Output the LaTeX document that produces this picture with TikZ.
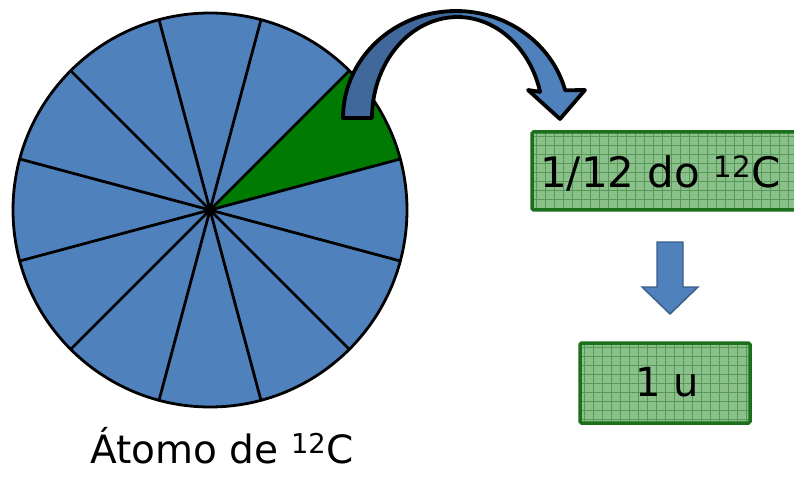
\documentclass[tikz,border=0pt]{standalone}
\usepackage{fontspec}
\setmainfont{DejaVu Sans}
\definecolor{pieblue}{RGB}{79,129,189}
\definecolor{piegreen}{RGB}{0,122,0}
\definecolor{arrowdark}{RGB}{64,104,155}
\definecolor{arrowedge}{RGB}{56,93,138}
\definecolor{boxfill}{RGB}{138,192,138}
\definecolor{boxgrid}{RGB}{88,152,88}
\definecolor{boxedge}{RGB}{28,112,28}
\begin{document}
\begin{tikzpicture}[x=1pt,y=-1pt,
  spoke/.style={line width=2.8pt,black},
  rim/.style={line width=2.8pt,black},
  gridbox/.style={draw=boxedge,line width=3.5pt,rounded corners=1.5pt},
  gridline/.style={boxgrid,line width=0.7pt},
  label/.style={inner sep=0pt,text=black},
  downarrow/.style={fill=pieblue,draw=arrowedge,line width=1.4pt,line join=miter}]
\useasboundingbox (0,0) rectangle (794,478);

% pie with twelve equal slices, one highlighted
\coordinate (o) at (210,210);
\fill[pieblue] (o) circle (197);
\fill[piegreen] (o) -- ++(-15:197) arc[start angle=-15,end angle=-45,radius=197] -- cycle;
\foreach \a in {15,45,...,345} \draw[spoke] (o) -- ++(\a:197);
\draw[rim] (o) circle (197);

% curved arrow from the slice to the first box
\def\curvedarrow{(343,118) arc[start angle=180,end angle=345,x radius=113,y radius=107]
  -- (585,90) -- (560,119) -- (528,90) -- (540.1,91.9)
  arc[start angle=345,end angle=180,x radius=85.5,y radius=101] -- cycle}
\fill[pieblue] \curvedarrow;
\begin{scope}
  \clip (330,0) rectangle (462,130);
  \fill[arrowdark] \curvedarrow;
\end{scope}
\draw[line width=3.8pt,line join=round] \curvedarrow;

% first box
\fill[boxfill] (532,132) rectangle (810,210);
\begin{scope}
  \clip (532,132) rectangle (810,210);
  \foreach \x in {536,545,...,806} \draw[gridline] (\x,132) -- (\x,210);
  \foreach \y in {136,145,...,208} \draw[gridline] (532,\y) -- (810,\y);
\end{scope}
\draw[gridbox] (532,132) rectangle (810,210);
\node[label,anchor=west,font=\fontsize{42}{42}\selectfont] (t1) at (540,173) {1/12 do \textsuperscript{12}C};

% straight arrow between the boxes
\draw[downarrow] (657,242) -- (683,242) -- (683,287) -- (698,287) -- (670,314)
  -- (642,287) -- (657,287) -- cycle;

% second box
\fill[boxfill] (580,343) rectangle (750,423);
\begin{scope}
  \clip (580,343) rectangle (750,423);
  \foreach \x in {584,593,...,750} \draw[gridline] (\x,343) -- (\x,423);
  \foreach \y in {347,356,...,423} \draw[gridline] (580,\y) -- (750,\y);
\end{scope}
\draw[gridbox] (580,343) rectangle (750,423);
\node[label,font=\fontsize{40}{40}\selectfont] (t2) at (667,382) {1 u};

% caption under the pie
\node[label,anchor=base,font=\fontsize{39}{39}\selectfont] (cap) at (222,463) {Átomo de \textsuperscript{12}C};
\end{tikzpicture}
\end{document}
